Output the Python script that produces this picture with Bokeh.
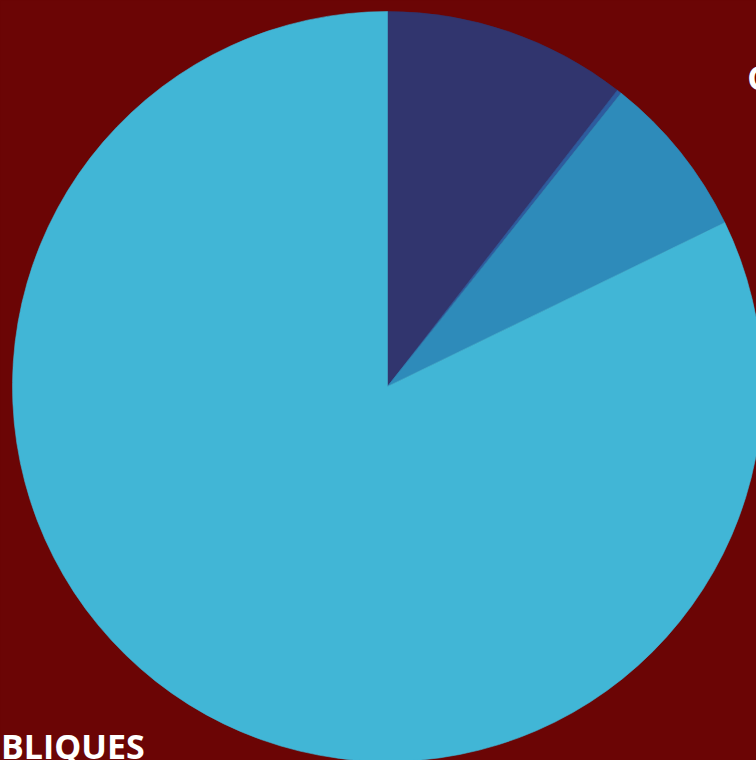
import math
import re
from bokeh.plotting import figure
from bokeh.models import Range1d, ColumnDataSource
from bokeh.core.properties import value
from bokeh.embed import file_html
from bokeh.resources import INLINE

# Data
categories = ["AUTRES", "DIVERS", "COLLECTIVITÉS", "FINANCES PUBLIQUES"]
shares = [10.5, 0.2, 7.1, 82.2]
labels = ["AUTRES", "", "COLLECTIVITÉS", "FINANCES PUBLIQUES"]
colors = ["#31356e", "#2d5c9f", "#2e8bba", "#41b6d6"]

BG = "#6b0505"
W, H = 756, 760
CX, CY = 387, 386
R = 375

total = sum(shares)
starts, ends, mids = [], [], []
acc = 0.0
for s in shares:
    a0 = acc / total * 2 * math.pi
    acc += s
    a1 = acc / total * 2 * math.pi
    starts.append(math.pi / 2 - a0)
    ends.append(math.pi / 2 - a1)
    mids.append((a0 + a1) / 2)

src = ColumnDataSource(dict(cat=categories, val=shares, start=starts, end=ends, color=colors))

p = figure(width=W, height=H, output_backend="svg", toolbar_location=None,
           x_range=Range1d(-CX, W - CX), y_range=Range1d(-(H - CY), CY),
           min_border=0, background_fill_color=BG, border_fill_color=BG)
p.axis.visible = False
p.grid.visible = False
p.outline_line_color = None
p.outline_line_alpha = 0
p.outline_line_width = 0

p.wedge(x=0, y=0, radius=R, start_angle="end", end_angle="start",
        fill_color="color", line_color="color", line_width=0.6, source=src)

# Labels placed outside slices at mid-angle
lab_r = [1.27, 1.27, 1.25, 1.17]
lab_dx = [0, 0, -6, -10]
lab_dy = [0, 0, 16, 12]
lx, ly, la, lt = [], [], [], []
for i, t in enumerate(labels):
    if not t:
        continue
    m = mids[i]
    x = R * lab_r[i] * math.sin(m) + lab_dx[i]
    y = R * lab_r[i] * math.cos(m) + lab_dy[i]
    lx.append(x)
    ly.append(y)
    lt.append(t)
    la.append("left" if x > 0 else "right")

lsrc = ColumnDataSource(dict(x=lx, y=ly, text=lt, align=la))
p.text(x="x", y="y", text="text", text_align="align", text_baseline="middle",
       text_font=value("Open Sans"), text_font_style="bold", text_font_size="34px",
       text_color="white", source=lsrc)

html = file_html(p, INLINE)
html = re.sub(r"<html([^>]*)>", r'<html\1 style="background:%s">' % BG, html, count=1)
html = re.sub(r"<body>", '<body style="margin:0;background:%s;overflow:hidden">' % BG, html, count=1)
open("out.html", "w").write(html)
